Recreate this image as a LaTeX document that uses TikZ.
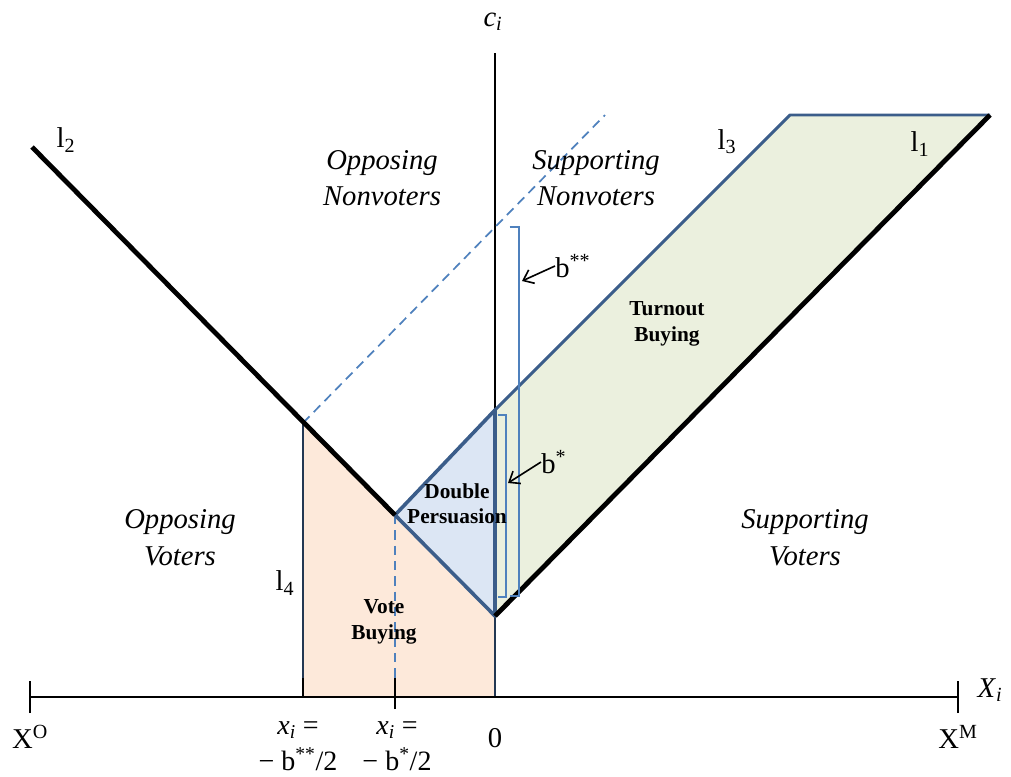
\documentclass[tikz,border=0pt]{standalone}
\usepackage{fontspec}
\setmainfont{Liberation Serif}
\usetikzlibrary{arrows.meta}
\definecolor{tbFill}{HTML}{EBF0DE}
\definecolor{dpFill}{HTML}{DCE6F4}
\definecolor{vbFill}{HTML}{FDE9DA}
\definecolor{edgeBlue}{HTML}{3B5D8A}
\definecolor{lightBlue}{HTML}{4F81BD}
\tikzset{
  italic label/.style={font=\fontsize{21.5}{27.5}\selectfont\itshape, align=center, inner sep=0pt},
  bold label/.style={font=\fontsize{16}{19}\selectfont\bfseries, align=center, inner sep=0pt},
  plain label/.style={font=\fontsize{21.5}{21}\selectfont, align=center, inner sep=0pt},
  thick black/.style={line width=3.6pt, black},
  edge line/.style={line width=2.7pt, edgeBlue, line join=round},
  dash line/.style={line width=1.3pt, lightBlue, dash pattern=on 7pt off 4.5pt},
  bracket/.style={line width=1.3pt, lightBlue},
  axis line/.style={line width=1.3pt, black},
  pointer/.style={line width=1.2pt, black, -{Straight Barb[length=7pt,width=11pt]}},
}
\begin{document}
\begin{tikzpicture}[x=0.75pt,y=-0.75pt]
\useasboundingbox (0,0) rectangle (1011,776);
% key points
\coordinate (axL) at (30,697);
\coordinate (axR) at (958,697);
\coordinate (ciTop) at (495,53);
\coordinate (ciBot) at (495,697);
\coordinate (l2top) at (32,147);
\coordinate (A) at (303,423);
\coordinate (B) at (395,515);
\coordinate (C) at (495,616);
\coordinate (D) at (495,410);
\coordinate (E) at (790,115);
\coordinate (F) at (990,115);
\coordinate (A0) at (303,697);
\coordinate (B0) at (395,697);
\coordinate (dashEnd) at (605,115);
% vertical axis
\draw[line width=1.6pt] (ciTop) -- (ciBot);
% fills
\fill[vbFill] (A) -- (B) -- (C) -- (ciBot) -- (A0) -- cycle;
\fill[tbFill] (D) -- (E) -- (F) -- (C) -- cycle;
\fill[dpFill] (D) -- (B) -- (C) -- cycle;
% dashed lines
\draw[dash line] (A) -- (dashEnd);
\draw[dash line] (B) -- (B0);
% vote buying box edges
\draw[line width=1.9pt, edgeBlue!60!black] (A) -- (A0);
\draw[line width=1.9pt, edgeBlue!60!black] (C) -- (ciBot);
% x axis
\draw[axis line] (axL) -- (axR);
\draw[axis line] ([yshift=-12]axL) -- ([yshift=12]axL);
\draw[axis line] ([yshift=-12]axR) -- ([yshift=12]axR);
\draw[axis line] (A0) -- ([yshift=14]A0);
\draw[axis line] ([yshift=-9]B0) -- ([yshift=14]B0);
% region borders
\draw[edge line] (D) -- (B) -- (C) -- cycle;
\draw[edge line, line width=2.2pt] (D) -- (E) -- (F);
\draw[thick black] (C) -- (F);
\draw[thick black] (l2top) -- (B);
% brackets
\coordinate (bssTop) at (519,227);
\coordinate (bssBot) at (519,596);
\coordinate (bsTop) at (506,415);
\coordinate (bsBot) at (506,597);
\draw[bracket] ([xshift=-7]bssTop) -- (bssTop) -- (bssBot) -- ([xshift=-7]bssBot);
\draw[bracket] ([xshift=-6]bsTop) -- (bsTop) -- (bsBot) -- ([xshift=-6]bsBot);
\coordinate (bssTip) at (522,281);
\coordinate (bsTip) at (508,483);
\node[plain label, anchor=west] (bss) at (555,266) {b\textsuperscript{**}};
\node[plain label, anchor=west] (bs) at (541,462) {b\textsuperscript{*}};
\draw[pointer] (bss.west) -- (bssTip);
\draw[pointer] (bs.west) -- (bsTip);
% region labels
\node[italic label] (oppNon) at (382,178) {Opposing\\Nonvoters};
\node[italic label] (supNon) at (596,178) {Supporting\\Nonvoters};
\node[italic label] (oppVot) at (180,538) {Opposing\\Voters};
\node[italic label] (supVot) at (805,538) {Supporting\\Voters};
\node[bold label] (turnout) at (667,324) {Turnout\\Buying};
\node[bold label] (double) at (457,504) {Double\\Persuasion};
\node[bold label] (vote) at (384,622) {Vote\\Buying};
% line labels
\node[plain label] (lTwo) at (66,140) {l\textsubscript{2}};
\node[plain label] (lThree) at (727,142) {l\textsubscript{3}};
\node[plain label] (lOne) at (920,144) {l\textsubscript{1}};
\node[plain label] (lFour) at (285,583) {l\textsubscript{4}};
% axis labels
\node[plain label] (ci) at (493,22) {\textit{c}\textsubscript{\textit{i}}};
\node[plain label] (Xi) at (990,690) {\textit{X}\textsubscript{\textit{i}}};
\node[plain label] (XO) at (30,737) {X\textsuperscript{O}};
\node[plain label] (XM) at (958,737) {X\textsuperscript{M}};
\node[plain label] (zero) at (495,738) {0};
\node[plain label, font=\fontsize{21}{27}\selectfont] (xbss) at (298,746) {\textit{x}\textsubscript{\textit{i}} =\\− b\textsuperscript{**}/2};
\node[plain label, font=\fontsize{21}{27}\selectfont] (xbs) at (397,746) {\textit{x}\textsubscript{\textit{i}} =\\− b\textsuperscript{*}/2};
\end{tikzpicture}
\end{document}
